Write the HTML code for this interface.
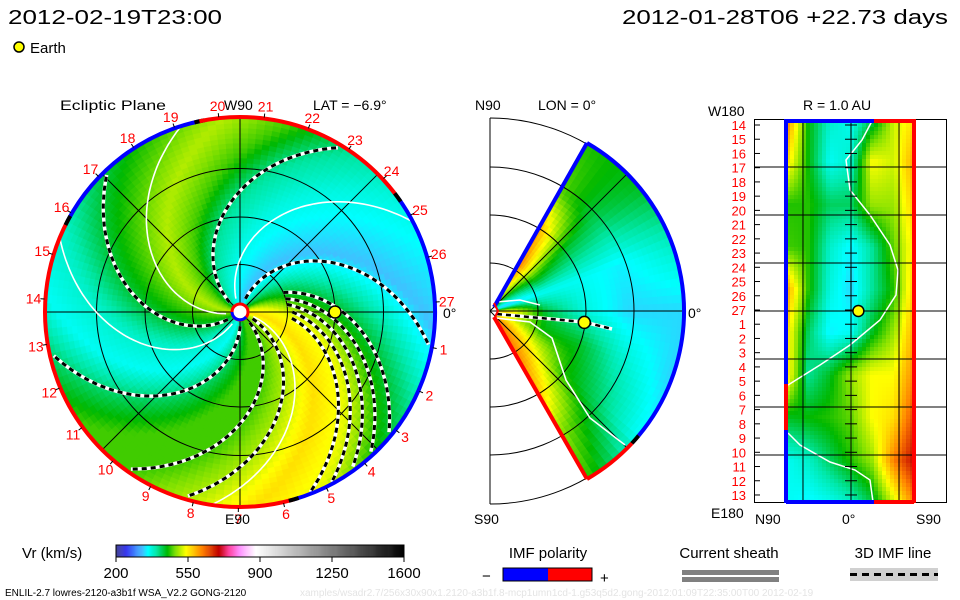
<!DOCTYPE html>
<html><head><meta charset="utf-8"><style>
body{margin:0;background:#fff;width:960px;height:600px;overflow:hidden}
svg{display:block;font-family:"Liberation Sans",sans-serif}
</style></head><body>
<svg id="s" width="960" height="600" viewBox="0 0 960 600" xmlns="http://www.w3.org/2000/svg">
<text x="8" y="24" font-size="20" textLength="214" lengthAdjust="spacingAndGlyphs">2012-02-19T23:00</text>
<text x="622" y="24" font-size="20" textLength="326" lengthAdjust="spacingAndGlyphs">2012-01-28T06 +22.73 days</text>
<circle cx="19" cy="47" r="5" fill="#ff0" stroke="#000" stroke-width="1.5"/>
<text x="30" y="53" font-size="15">Earth</text>
<text x="60" y="110" font-size="14" textLength="106" lengthAdjust="spacingAndGlyphs">Ecliptic Plane</text>
<text x="313" y="110" font-size="14">LAT = −6.9°</text>
<g id="ecl"></g>
<g id="mer"></g>
<g id="rgt"></g>
<g id="cbar"></g>
<text x="224" y="110" font-size="14">W90</text>
<text x="225" y="524" font-size="14">E90</text>
<text x="443" y="318" font-size="14">0°</text>
<text x="475" y="110" font-size="14">N90</text>
<text x="538" y="110" font-size="14">LON = 0°</text>
<text x="474" y="524" font-size="14">S90</text>
<text x="688" y="318" font-size="14">0°</text>
<text x="708" y="116" font-size="14">W180</text>
<text x="711" y="518" font-size="14">E180</text>
<text x="803" y="110" font-size="14">R = 1.0 AU</text>
<text x="755" y="524" font-size="14">N90</text>
<text x="842" y="524" font-size="14">0°</text>
<text x="916" y="524" font-size="14">S90</text>
<text x="22" y="558" font-size="15">Vr (km/s)</text>
<text x="548" y="558" font-size="15" text-anchor="middle">IMF polarity</text>
<rect x="503" y="568" width="45" height="13" fill="#00f"/>
<rect x="548" y="568" width="44" height="13" fill="#f00"/>
<rect x="503" y="568" width="89" height="13" fill="none" stroke="#000"/>
<text x="482" y="581" font-size="15">−</text>
<text x="600" y="583" font-size="15">+</text>
<text x="729" y="558" font-size="15" text-anchor="middle">Current sheath</text>
<rect x="682" y="570" width="97" height="5" fill="#808080"/>
<rect x="682" y="577" width="97" height="5" fill="#808080"/>
<text x="893" y="558" font-size="15" text-anchor="middle">3D IMF line</text>
<rect x="850" y="568" width="88" height="13" fill="#d0d0d0"/>
<line x1="850" y1="574.5" x2="938" y2="574.5" stroke="#000" stroke-width="3" stroke-dasharray="7 5"/>
<text x="5" y="596" font-size="10">ENLIL-2.7 lowres-2120-a3b1f WSA_V2.2 GONG-2120</text>
<text x="300" y="596" font-size="10" fill="#e4e4e4">xamples/wsadr2.7/256x30x90x1.2120-a3b1f.8-mcp1umn1cd-1.g53q5d2.gong-2012:01:09T22:35:00T00   2012-02-19</text>
</svg>
<script>
// ---------- data ----------
const cbTicks=[200,550,900,1250,1600];
const eclSrcLon=[0,20,40,60,80,100,120,140,160,180,200,220,240,260,280,300,320,340];
const eclSpeed=[560,530,450,390,330,350,370,400,470,510,470,430,380,360,420,470,470,510];
const imfEnd=[58,133,192,234,253,-11,-40,-48,-55,-62,-69];
const imfStartAU=[0.15,0.15,0.15,0.15,0.15,0.15,0.5,0.5,0.5,0.55,0.55];
const hcsEnd=[108,158,28,262];
const rimStart=[102,152,286,36];
const rimEnd=[152,286,396,102];
const rimPol=[-1,1,-1,1];
const merTheta=[60,40,20,0,-20,-40,-60];
const merRadAU=[0.2,0.6,1.0,1.45,2.0];
const merSpeed=[[560,640,600,480,460],[430,480,440,420,440],[330,360,360,350,380],[560,430,370,340,340],[540,450,440,380,340],[600,540,460,420,360],[640,620,580,500,470]];
const rLat=[60,40,20,0,-20,-40,-60];
const rLon=[180,140,100,60,20,-20,-60,-100,-140,-180];
const rSpeed=[[620,450,380,360,420,520,560],[560,450,360,380,540,520,600],[460,460,420,420,500,500,580],[470,460,380,350,400,480,560],[600,460,370,340,400,460,580],[560,420,350,360,440,500,600],[560,400,440,500,540,540,620],[440,450,460,480,540,560,660],[360,380,420,460,500,620,700],[360,350,360,380,430,520,620]];
const dayLabels=[14,15,16,17,18,19,20,21,22,23,24,25,26,27,1,2,3,4,5,6,7,8,9,10,11,12,13];
const earthLonDeg=0, earthLatDeg=-6.9, earthAU=1.0;
// ---------- helpers ----------
const NS="http://www.w3.org/2000/svg";
function mk(tag,attrs,parent){const e=document.createElementNS(NS,tag);for(const k in attrs)e.setAttribute(k,attrs[k]);parent.appendChild(e);return e;}
const stops=[[200,[64,64,144]],[250,[56,56,240]],[300,[64,144,255]],[330,[64,192,255]],[355,[0,255,255]],[395,[0,232,168]],[430,[0,200,64]],[450,[0,184,0]],[490,[128,224,0]],[540,[255,255,0]],[620,[255,128,0]],[700,[192,0,0]],[750,[255,64,160]],[800,[255,144,255]],[880,[255,255,255]],[1600,[0,0,0]]];
function rgb(c){return "rgb("+c.map(x=>Math.round(x)).join(",")+")";}
function cmap(v){if(v<=stops[0][0])return rgb(stops[0][1]);for(let i=1;i<stops.length;i++){if(v<=stops[i][0]){const a=stops[i-1],b=stops[i],t=(v-a[0])/(b[0]-a[0]);return rgb(a[1].map((c,j)=>c+(b[1][j]-c)*t));}}return rgb(stops[stops.length-1][1]);}
function seg(xs,x){const n=xs.length;const asc=xs[n-1]>xs[0];
  for(let i=0;i<n-1;i++){const a=xs[i],b=xs[i+1];if(asc?(x>=a&&x<=b):(x<=a&&x>=b)){return [i,(x-a)/(b-a)];}}
  if(asc?x<xs[0]:x>xs[0])return[0,0];return[n-2,1];}
function bilin(rows,cols,grid,rv,cv){const [i,t]=seg(rows,rv);const [j,u]=seg(cols,cv);
  const a=grid[i][j],b=grid[i][j+1],c=grid[i+1][j],d=grid[i+1][j+1];return (a*(1-u)+b*u)*(1-t)+(c*(1-u)+d*u)*t;}
// ---------- ecliptic ----------
const ecl=document.getElementById('ecl');
const CX=240,CY=312,R=194,PXAU=95,K=85;
function ex(r,p){return CX+r*Math.cos(p*Math.PI/180);}
function ey(r,p){return CY-r*Math.sin(p*Math.PI/180);}
function eclV(r,p){let s=((p+K*r/R)%360+360)%360;const n=eclSrcLon.length;let i=Math.floor(s/20)%n;const t=(s-eclSrcLon[i])/20;const a=eclSpeed[i],b=eclSpeed[(i+1)%n];return a+(b-a)*t;}
const gF=mk('g',{},ecl);
for(let r=9;r<R;r+=5){const r2=Math.min(R,r+5);for(let p=0;p<360;p+=2.5){const c=cmap(eclV(r+2.5,p+1.25));
 const el=mk('path',{d:`M${ex(r,p).toFixed(1)},${ey(r,p).toFixed(1)}L${ex(r2,p).toFixed(1)},${ey(r2,p).toFixed(1)}L${ex(r2,p+2.5).toFixed(1)},${ey(r2,p+2.5).toFixed(1)}L${ex(r,p+2.5).toFixed(1)},${ey(r,p+2.5).toFixed(1)}Z`,fill:c,stroke:c,'stroke-width':'0.6'},gF);
 
 }}
const gG=mk('g',{stroke:'#000','stroke-width':'1',fill:'none'},ecl);
[0.5,1,1.5].forEach(a=>{mk('circle',{cx:CX,cy:CY,r:a*PXAU+(a===1.5?1:0)},gG);});
[0,45,90,135].forEach(a=>{mk('line',{x1:ex(R,a),y1:ey(R,a),x2:ex(R,a+180),y2:ey(R,a+180)},gG);});
function spiralPath(end,r0){let d="";const p0=end+K;for(let r=r0;r<=R;r+=3){const p=p0-K*r/R;d+=(d?"L":"M")+ex(r,p).toFixed(1)+","+ey(r,p).toFixed(1);}return d;}
hcsEnd.forEach(e=>{const el=mk('path',{d:spiralPath(e,14),stroke:'#fff','stroke-width':'1.6',fill:'none'},ecl);
 
 });
imfEnd.forEach((e,i)=>{const d=spiralPath(e,imfStartAU[i]*PXAU);
 const w=mk('path',{d:d,stroke:'#fff','stroke-width':'3.5',fill:'none'},ecl);
 
 
 const b=mk('path',{d:d,stroke:'#000','stroke-width':'3','stroke-dasharray':'5 4',fill:'none'},ecl);
 
 });
rimStart.forEach((a,i)=>{const b=rimEnd[i];const large=(b-a)>180?1:0;
 const el=mk('path',{d:`M${ex(R+1,a)},${ey(R+1,a)}A${R+1},${R+1} 0 ${large} 0 ${ex(R+1,b)},${ey(R+1,b)}`,stroke:rimPol[i]>0?'#f00':'#00f','stroke-width':'4',fill:'none'},ecl);
 
 
 const k=mk('path',{d:`M${ex(R+1,a-1.5)},${ey(R+1,a-1.5)}A${R+1},${R+1} 0 0 0 ${ex(R+1,a+1.5)},${ey(R+1,a+1.5)}`,stroke:'#000','stroke-width':'4',fill:'none'},ecl);
 
 });
mk('circle',{cx:CX,cy:CY,r:8,fill:'#fff',stroke:'#f00','stroke-width':'3',},ecl);
mk('path',{d:`M${CX-8},${CY}A8,8 0 0 0 ${CX+6},${CY+5}`,stroke:'#00f','stroke-width':'3',fill:'none',},ecl);
dayLabels.forEach(k=>{const a=-10.5-13.33*(k-1);const t=mk('text',{x:ex(207,a).toFixed(1),y:(ey(207,a)+5).toFixed(1),'font-size':'14',fill:'#f00','text-anchor':'middle'},ecl);t.textContent=k;
 
 
 mk('line',{x1:ex(R+2,a),y1:ey(R+2,a),x2:ex(R+6,a),y2:ey(R+6,a),stroke:'#000','stroke-width':'1',},ecl);});
const ee=mk('circle',{cx:ex(earthAU*PXAU,earthLonDeg),cy:ey(earthAU*PXAU,earthLonDeg),r:6,fill:'#ff0',stroke:'#000','stroke-width':'1.5'},ecl);


// ---------- meridional ----------
const mer=document.getElementById('mer');const MX=490,MY=311;
function mx(r,t){return MX+r*Math.cos(t*Math.PI/180);}function my(r,t){return MY-r*Math.sin(t*Math.PI/180);}
const gM=mk('g',{},mer);
for(let r=8;r<R;r+=5){const r2=Math.min(R,r+5);for(let t=-60;t<60;t+=2.5){const v=bilin(merTheta,merRadAU,merSpeed,t+1.25,(r+2.5)/PXAU);const c=cmap(v);
 const el=mk('path',{d:`M${mx(r,t).toFixed(1)},${my(r,t).toFixed(1)}L${mx(r2,t).toFixed(1)},${my(r2,t).toFixed(1)}L${mx(r2,t+2.5).toFixed(1)},${my(r2,t+2.5).toFixed(1)}L${mx(r,t+2.5).toFixed(1)},${my(r,t+2.5).toFixed(1)}Z`,fill:c,stroke:c,'stroke-width':'0.6'},gM);
 
 }}
const gMG=mk('g',{stroke:'#000','stroke-width':'1',fill:'none'},mer);
[48,96,144,193].forEach(r=>mk('path',{d:`M${MX},${MY-r}A${r},${r} 0 0 1 ${MX},${MY+r}`},gMG));
mk('line',{x1:MX,y1:MY-193,x2:MX,y2:MY+193},gMG);
mk('line',{x1:MX,y1:MY,x2:mx(R,0),y2:MY},gMG);
mk('line',{x1:MX,y1:MY,x2:mx(R,45),y2:my(R,45)},gMG);
mk('line',{x1:MX,y1:MY,x2:mx(R,-45),y2:my(R,-45)},gMG);
mk('polyline',{points:'496,318 530,322 552,338 566,380 590,418 625,445',stroke:'#fff','stroke-width':'1.6',fill:'none',},mer);
mk('polyline',{points:'496,302 520,300 540,305',stroke:'#fff','stroke-width':'1.6',fill:'none',},mer);
mk('polyline',{points:'497,314 540,318 584,322 612,329',stroke:'#fff','stroke-width':'3.5',fill:'none',},mer);
mk('polyline',{points:'497,314 540,318 584,322 612,329',stroke:'#000','stroke-width':'2.5','stroke-dasharray':'5 4',fill:'none',},mer);
mk('line',{x1:MX+4,y1:MY-4,x2:mx(R,60),y2:my(R,60),stroke:'#00f','stroke-width':'4',},mer);
mk('line',{x1:MX+4,y1:MY+6,x2:mx(R,-60),y2:my(R,-60),stroke:'#f00','stroke-width':'4',},mer);
mk('path',{d:`M${mx(R,60)},${my(R,60)}A${R},${R} 0 0 1 ${mx(R,-40)},${my(R,-40)}`,stroke:'#00f','stroke-width':'4',fill:'none',},mer);
mk('path',{d:`M${mx(R,-40)},${my(R,-40)}A${R},${R} 0 0 1 ${mx(R,-43)},${my(R,-43)}`,stroke:'#000','stroke-width':'4',fill:'none',},mer);
mk('path',{d:`M${mx(R,-43)},${my(R,-43)}A${R},${R} 0 0 1 ${mx(R,-60)},${my(R,-60)}`,stroke:'#f00','stroke-width':'4',fill:'none',},mer);
mk('path',{d:`M${MX+4},${MY-8}L${MX+8},${MY}L${MX+4},${MY+8}`,stroke:'#f00','stroke-width':'2',fill:'none',},mer);
const me=mk('circle',{cx:mx(earthAU*PXAU,earthLatDeg),cy:my(earthAU*PXAU,earthLatDeg),r:6,fill:'#ff0',stroke:'#000','stroke-width':'1.5'},mer);


// ---------- right panel ----------
const rg=document.getElementById('rgt');
const latX=l=>851-l*1.067, lonY=l=>311-l*1.067;
const gR=mk('g',{},rg);
for(let y=119;y<503;y+=4){for(let x=786;x<914;x+=4){const lat=(851-(x+2))/1.067,lon=(311-(y+2))/1.067;const c=cmap(bilin(rLon,rLat,rSpeed,lon,lat));
 const el=mk('rect',{x:x,y:y,width:4.4,height:4.4,fill:c},gR);
 
 }}
mk('polyline',{points:'872,121 862,140 846,160 850,190 870,215 890,245 898,270 896,295 880,320 850,345 820,365 788,385',stroke:'#fff','stroke-width':'1.5',fill:'none',},rg);
mk('polyline',{points:'788,433 800,445 830,462 855,470 870,480 873,502',stroke:'#fff','stroke-width':'1.5',fill:'none',},rg);
const gRG=mk('g',{stroke:'#000','stroke-width':'1',fill:'none'},rg);
mk('rect',{x:754.5,y:119.5,width:192,height:383},gRG);
[45,0,-45].forEach(l=>mk('line',{x1:latX(l),y1:119,x2:latX(l),y2:503},gRG));
[135,90,45,0,-45,-90,-135].forEach(l=>mk('line',{x1:754,y1:lonY(l),x2:947,y2:lonY(l)},gRG));
dayLabels.forEach((k,i)=>{const y=125+i*14.23;const t=mk('text',{x:746,y:(y+5).toFixed(1),'font-size':'13',fill:'#f00','text-anchor':'end'},rg);t.textContent=k;
 
 
 mk('line',{x1:754,y1:y,x2:760,y2:y,stroke:'#000',},rg);
 mk('line',{x1:845,y1:y,x2:857,y2:y,stroke:'#000',},rg);});
mk('line',{x1:786,y1:119,x2:786,y2:384,stroke:'#00f','stroke-width':'4',},rg);
mk('line',{x1:786,y1:384,x2:786,y2:430,stroke:'#f00','stroke-width':'4',},rg);
mk('line',{x1:786,y1:430,x2:786,y2:503,stroke:'#00f','stroke-width':'4',},rg);
mk('line',{x1:786,y1:121,x2:874,y2:121,stroke:'#00f','stroke-width':'4',},rg);
mk('line',{x1:874,y1:121,x2:914,y2:121,stroke:'#f00','stroke-width':'4',},rg);
mk('line',{x1:786,y1:502,x2:874,y2:502,stroke:'#00f','stroke-width':'4',},rg);
mk('line',{x1:874,y1:502,x2:914,y2:502,stroke:'#f00','stroke-width':'4',},rg);
mk('line',{x1:914,y1:119,x2:914,y2:503,stroke:'#f00','stroke-width':'4',},rg);
const re=mk('circle',{cx:latX(earthLatDeg),cy:lonY(earthLonDeg),r:5.5,fill:'#ff0',stroke:'#000','stroke-width':'1.5'},rg);


// ---------- colorbar ----------
const cb=document.getElementById('cbar');const cbx=v=>116+(v-200)/1400*288;
for(let v=200;v<1600;v+=5){const el=mk('rect',{x:cbx(v),y:545,width:1.3,height:12,fill:cmap(v+2.5)},cb);
 
 }
mk('rect',{x:116,y:545,width:288,height:12,fill:'none',stroke:'#000',},cb);
cbTicks.forEach(v=>{mk('line',{x1:cbx(v),y1:557,x2:cbx(v),y2:562,stroke:'#000',},cb);
 const t=mk('text',{x:cbx(v),y:578,'font-size':'15','text-anchor':'middle'},cb);t.textContent=v;
 
 });
</script>
</body></html>
